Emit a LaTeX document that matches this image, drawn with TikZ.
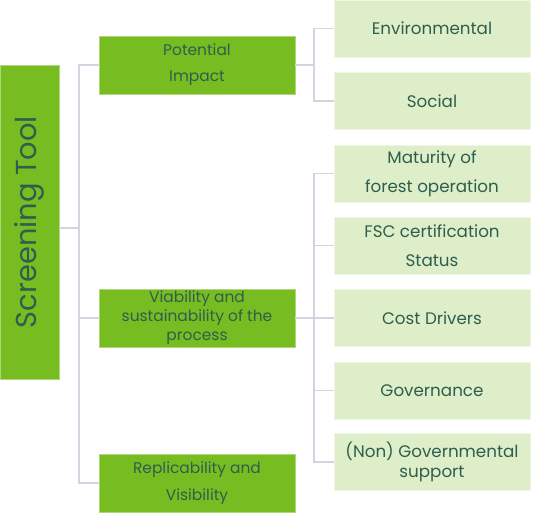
\documentclass[tikz,border=0pt]{standalone}
\usepackage{fontspec}
\setmainfont{Poppins}
\definecolor{mainG}{HTML}{77BD21}
\definecolor{lightG}{HTML}{DDEEC8}
\definecolor{txtC}{HTML}{2F5E4E}
\definecolor{lineC}{HTML}{D4D4E0}
\begin{document}
\begin{tikzpicture}[x=1bp,y=-1bp,
  rootbox/.style={fill=mainG,draw=mainG!60!white,line width=0.6bp,minimum width=59bp,minimum height=314bp,inner sep=0pt,text=txtC},
  lvone/.style={fill=mainG,draw=mainG!60!white,line width=0.6bp,minimum width=196bp,minimum height=58bp,inner sep=0pt,text=txtC,align=center,font=\fontsize{15.5}{20}\selectfont},
  lvtwo/.style={fill=lightG,draw=lightG!50!white,line width=0.6bp,minimum width=196bp,minimum height=57bp,inner sep=0pt,text=txtC,align=center,font=\fontsize{16.8}{20}\selectfont},
  conn/.style={draw=lineC,line width=1.2bp}]
\useasboundingbox (0,0) rectangle (537,517);
\node[rootbox] (root) at (29.5,222) {};
\node[rotate=90,text=txtC,font=\fontsize{29}{30}\selectfont] (roottxt) at (root.center) {Screening Tool};
\node[lvone,font=\fontsize{15.5}{26}\selectfont] (pi) at (197,65) {Potential\\Impact};
\node[lvone,font=\fontsize{15.5}{19}\selectfont] (vs) at (197,318) {Viability and\\sustainability of the\\process};
\node[lvone,font=\fontsize{15.5}{27}\selectfont] (rv) at (197,483) {Replicability and\\Visibility};
\node[lvtwo] (env) at (432,28.5) {Environmental};
\node[lvtwo] (soc) at (432,101) {Social};
\node[lvtwo,font=\fontsize{16.8}{29}\selectfont] (mat) at (432,173.5) {Maturity of\\forest operation};
\node[lvtwo,font=\fontsize{16.8}{29}\selectfont] (fsc) at (432,245.5) {FSC certification\\Status};
\node[lvtwo] (cost) at (432,318) {Cost Drivers};
\node[lvtwo] (gov) at (432,390.5) {Governance};
\node[lvtwo,font=\fontsize{16.8}{20}\selectfont] (ngo) at (432,462) {(Non) Governmental\\support};
\coordinate (trunk) at (79,0);
\coordinate (rootout) at (59,228);
\coordinate (branch) at (314,0);
\draw[conn] (rootout) -- (rootout -| trunk);
\draw[conn] (pi.west) -- (pi.west -| trunk) |- (rv.west);
\draw[conn] (vs.west) -- (vs.west -| trunk);
\draw[conn] (pi.east) -- (pi.east -| branch);
\draw[conn] (env.west) -| (branch |- env.west) |- (soc.west);
\draw[conn] (vs.east) -- (vs.east -| branch);
\draw[conn] (mat.west) -| (branch |- mat.west) |- (ngo.west);
\draw[conn] (fsc.west) -- (fsc.west -| branch);
\draw[conn] (cost.west) -- (cost.west -| branch);
\draw[conn] (gov.west) -- (gov.west -| branch);
\end{tikzpicture}
\end{document}
